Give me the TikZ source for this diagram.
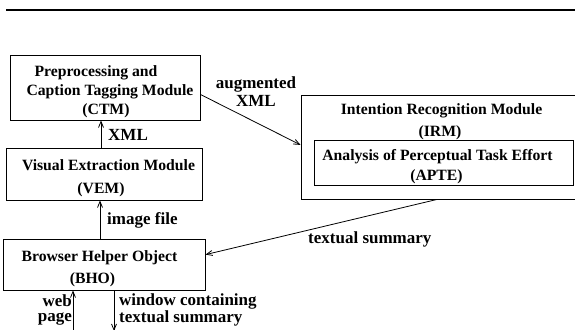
\documentclass[tikz,border=0pt]{standalone}
\usepackage{fontspec}
\setmainfont{Liberation Serif}
\usetikzlibrary{arrows.meta,calc}
\tikzset{
  box/.style={draw, line width=1pt, rectangle, inner sep=0pt},
  boxtxt/.style={anchor=base, inner sep=0pt, font=\fontsize{15.7}{18}\selectfont\bfseries},
  lbl/.style={inner sep=0pt, font=\fontsize{17}{19}\selectfont\bfseries},
  lbltwo/.style={inner sep=0pt, font=\fontsize{17}{13.8}\selectfont\bfseries},
  arr/.style={line width=0.8pt, -{Straight Barb[length=6pt,width=5pt,line width=0.8pt]}},
  rule/.style={line width=2.2pt}
}
\begin{document}
\begin{tikzpicture}[x=1pt,y=-1pt]
\useasboundingbox (0,0) rectangle (575,329);
% top rule
\coordinate (r1) at (6,10);
\coordinate (r2) at (580,10);
\draw[rule] (r1) -- (r2);
% boxes
\node[box, minimum width=190pt, minimum height=64pt] (ctm) at (105,88) {};
\node[box, minimum width=196pt, minimum height=52pt] (vem) at (104,174) {};
\node[box, minimum width=202pt, minimum height=51pt] (bho) at (104,264.5) {};
\node[box, minimum width=277pt, minimum height=104pt] (irm) at (439.5,147) {};
\node[box, minimum width=259pt, minimum height=45pt] (apte) at (443.5,162.5) {};
% box texts
\node[boxtxt] (t1) at (96,76.7) {Preprocessing and};
\node[boxtxt] (t2) at (110,95.7) {Caption Tagging Module};
\node[boxtxt] (t3) at (106,114) {(CTM)};
\node[boxtxt] (t4) at (108.5,170.7) {Visual Extraction Module};
\node[boxtxt] (t5) at (101,193) {(VEM)};
\node[boxtxt] (t6) at (99.5,261.3) {Browser Helper Object};
\node[boxtxt] (t7) at (92.5,283) {(BHO)};
\node[boxtxt] (t8) at (441.5,114) {Intention Recognition Module};
\node[boxtxt] (t9) at (440,136) {(IRM)};
\node[boxtxt] (t10) at (437.5,160) {Analysis of Perceptual Task Effort};
\node[boxtxt] (t11) at (436.5,180) {(APTE)};
% connectors
\coordinate (cx) at (101,0);
\draw[arr] (cx |- vem.north) -- (cx |- ctm.south);
\coordinate (ix) at (100,0);
\draw[arr] (ix |- bho.north) -- (ix |- vem.south);
\draw[arr] ($(ctm.north east)!0.6!(ctm.south east)$) -- ($(irm.north west)!0.48!(irm.south west)$);
\draw[arr] ($(irm.south west)!0.49!(irm.south east)$) -- ($(bho.north east)!0.31!(bho.south east)$);
\coordinate (wp) at (73,331);
\draw[arr] (wp) -- (wp |- bho.south);
\coordinate (wc) at (114,331);
\draw[arr] (wc |- bho.south) -- (wc);
% labels
\node[lbl, anchor=base west] (l1) at (108,140.7) {XML};
\node[lbl, anchor=base west] (l2) at (107,224) {image file};
\node[lbl, anchor=base, align=center, font=\fontsize{17}{18.7}\selectfont\bfseries] (l3) at (256,106.7) {augmented\\XML};
\node[lbl, anchor=base west] (l5) at (308,243) {textual summary};
\node[lbltwo, anchor=base east, align=right, font=\fontsize{17}{15.2}\selectfont\bfseries] (l6) at (72,321.7) {web\\page};
\node[lbltwo, anchor=base west, align=left] (l8) at (119,322) {window containing\\textual summary};
\end{tikzpicture}
\end{document}
